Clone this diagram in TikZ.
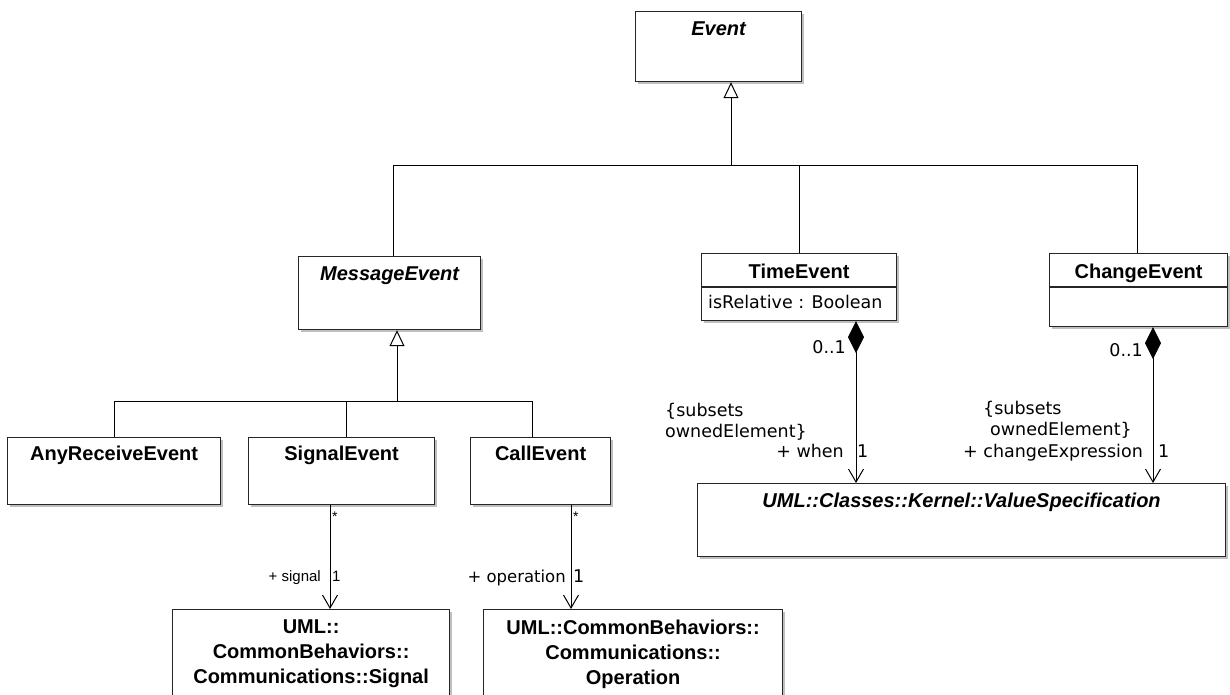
\documentclass[tikz,border=0pt]{standalone}
\usepackage{fontspec}
\setmainfont{Liberation Sans}
\newfontfamily\labfont{DejaVu Sans}
\usetikzlibrary{arrows.meta,shadows,calc}
\begin{document}
\begin{tikzpicture}[x=1pt,y=-1pt,
  cls/.style={draw=black!85, line width=1.2pt, fill=white, anchor=north west, inner sep=0pt,
    drop shadow={shadow xshift=2pt, shadow yshift=-2pt, fill=black, opacity=0.25}},
  nm/.style={font=\fontsize{20}{25}\selectfont\bfseries, inner sep=0pt, anchor=base},
  anm/.style={font=\fontsize{20}{25}\selectfont\bfseries\itshape, inner sep=0pt, anchor=base},
  lab/.style={font=\labfont\fontsize{17.5}{21}\selectfont, inner sep=0pt},
  smalllab/.style={font=\fontsize{15}{18}\selectfont, inner sep=0pt},
  ln/.style={line width=1pt, draw=black},
  gen/.style={ln, -{Triangle[open, length=16pt, width=15pt]}},
  nav/.style={ln, -{Straight Barb[length=13pt, width=15pt]}},
  comp/.style={ln, {Diamond[length=32pt, width=16pt]}-{Straight Barb[length=13pt, width=15pt]}},
]
\useasboundingbox (0,0) rectangle (1230,694);
\fill[white] (0,0) rectangle (1230,694);

% classes
\node[cls, minimum width=166pt, minimum height=70pt] (Event) at (635,11) {};
\node[anm] (EventName) at ($(Event.north)+(0,24)$) {Event};

\node[cls, minimum width=182pt, minimum height=73pt] (MessageEvent) at (298,256) {};
\node[anm] (MessageEventName) at ($(MessageEvent.north)+(0,24)$) {MessageEvent};

\node[cls, minimum width=195pt, minimum height=67pt] (TimeEvent) at (701,253) {};
\node[nm] (TimeEventName) at ($(TimeEvent.north)+(0,25)$) {TimeEvent};
\draw[line width=1.2pt, black!85] ([yshift=-34pt]TimeEvent.north west) -- ([yshift=-34pt]TimeEvent.north east);
\node[lab, anchor=base west] (TimeAttr) at ($(TimeEvent.north west)+(7,55)$) {isRelative : Boolean};

\node[cls, minimum width=178pt, minimum height=73pt] (ChangeEvent) at (1049,253) {};
\node[nm] (ChangeEventName) at ($(ChangeEvent.north)+(0,25)$) {ChangeEvent};
\draw[line width=1.2pt, black!85] ([yshift=-34pt]ChangeEvent.north west) -- ([yshift=-34pt]ChangeEvent.north east);

\node[cls, minimum width=213pt, minimum height=67pt] (AnyReceiveEvent) at (7,437) {};
\node[nm] (AnyReceiveEventName) at ($(AnyReceiveEvent.north)+(0,23)$) {AnyReceiveEvent};

\node[cls, minimum width=186pt, minimum height=67pt] (SignalEvent) at (248,437) {};
\node[nm] (SignalEventName) at ($(SignalEvent.north)+(0,23)$) {SignalEvent};

\node[cls, minimum width=140pt, minimum height=67pt] (CallEvent) at (470,437) {};
\node[nm] (CallEventName) at ($(CallEvent.north)+(0,23)$) {CallEvent};

\node[cls, minimum width=528pt, minimum height=73pt] (ValueSpec) at (697,483) {};
\node[anm] (ValueSpecName) at ($(ValueSpec.north)+(0,24)$) {UML::Classes::Kernel::ValueSpecification};

\node[cls, minimum width=277pt, minimum height=100pt] (Signal) at (172,609) {};
\node[nm, anchor=north, align=center] (SignalName) at ($(Signal.north)+(0,11)$) {UML::\\CommonBehaviors::\\Communications::Signal};

\node[cls, minimum width=299pt, minimum height=100pt] (Operation) at (483,609) {};
\node[nm, anchor=north, align=center] (OperationName) at ($(Operation.north)+(0,11)$) {UML::CommonBehaviors::\\Communications::\\Operation};

% generalizations
\coordinate (e1) at (731,165);
\draw[gen] (e1) -- (Event.south -| e1);
\draw[ln] ([xshift=4pt]MessageEvent.north) |- ([xshift=-1pt]ChangeEvent.north |- e1) -- ([xshift=-1pt]ChangeEvent.north);
\draw[ln] (TimeEvent.north) -- (TimeEvent.north |- e1);

\coordinate (m1) at (397,401);
\draw[gen] (m1) -- (MessageEvent.south -| m1);
\draw[ln] (AnyReceiveEvent.north) |- ([xshift=-8.5pt]CallEvent.north |- m1) -- ([xshift=-8.5pt]CallEvent.north);
\draw[ln] ([xshift=4.5pt]SignalEvent.north) -- ([xshift=4.5pt]SignalEvent.north |- m1);

% associations
\coordinate (sx) at (330,0);
\coordinate (ox) at (571,0);
\coordinate (tx) at (856,0);
\coordinate (cx) at (1153,0);
\draw[nav] (SignalEvent.south -| sx) -- (Signal.north -| sx);
\draw[nav] (CallEvent.south -| ox) -- (Operation.north -| ox);
\draw[comp] (TimeEvent.south -| tx) -- (ValueSpec.north -| tx);
\draw[comp] (ChangeEvent.south -| cx) -- (ValueSpec.north -| cx);

% association labels
\node[font=\fontsize{14}{14}\selectfont, inner sep=0pt, anchor=north west] (sstar) at (332,512) {*};
\node[smalllab, anchor=base east] (sname) at (321,581) {+ signal};
\node[smalllab, anchor=base west] (smult) at (332,581) {1};

\node[font=\fontsize{14}{14}\selectfont, inner sep=0pt, anchor=north west] (ostar) at (573,512) {*};
\node[lab, font=\labfont\fontsize{16.5}{20}\selectfont, anchor=base east] (oname) at (566,582) {+ operation};
\node[lab, anchor=base west] (omult) at (573,582) {1};

\node[lab, anchor=base east] (tmult) at (846,353) {0..1};
\node[lab, anchor=base west] (tsub1) at (665,416) {\{subsets};
\node[lab, anchor=base west] (tsub2) at (665,437) {ownedElement\}};
\node[lab, anchor=base east] (twhen) at (844,457) {+ when};
\node[lab, anchor=base west] (tone) at (857,457) {1};

\node[lab, anchor=base east] (cmult) at (1143,356) {0..1};
\node[lab, anchor=base west] (csub1) at (983,414) {\{subsets};
\node[lab, anchor=base west] (csub2) at (990,435) {ownedElement\}};
\node[lab, anchor=base east] (cexpr) at (1143,457) {+ changeExpression};
\node[lab, anchor=base west] (cone) at (1158,457) {1};
\end{tikzpicture}
\end{document}
